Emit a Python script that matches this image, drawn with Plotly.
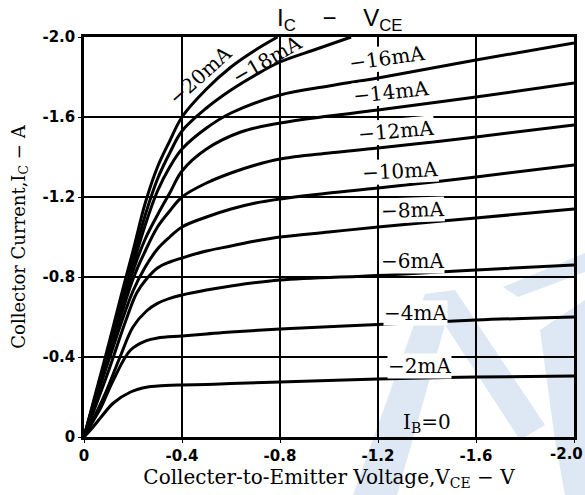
import plotly.graph_objects as go

# ---------------- data ----------------
ib_ma = [2, 4, 6, 8, 10, 12, 14, 16, 18, 20]

vce_2 = [0, -0.03, -0.07, -0.12, -0.19, -0.26, -0.3, -0.4, -0.5, -0.6, -0.8, -1.2, -1.6, -2.0]
ic_2 = [0, -0.04, -0.10, -0.17, -0.225, -0.25, -0.255, -0.26, -0.263, -0.267, -0.275, -0.29, -0.30, -0.305]

vce_4 = [0, -0.04, -0.07, -0.12, -0.19, -0.255, -0.3, -0.4, -0.5, -0.6, -0.8, -1.2, -1.6, -2.0]
ic_4 = [0, -0.085, -0.15, -0.285, -0.435, -0.482, -0.495, -0.505, -0.515, -0.525, -0.54, -0.563, -0.585, -0.60]

vce_6 = [0, -0.05, -0.093, -0.147, -0.2, -0.255, -0.3, -0.35, -0.4, -0.5, -0.6, -0.8, -1.2, -1.6, -2.0]
ic_6 = [0, -0.12, -0.235, -0.40, -0.55, -0.63, -0.668, -0.693, -0.71, -0.735, -0.755, -0.785, -0.808, -0.835, -0.86]

vce_8 = [0, -0.1, -0.17, -0.215, -0.255, -0.3, -0.35, -0.4, -0.5, -0.6, -0.7, -0.8, -1.0, -1.2, -1.6, -2.0]
ic_8 = [0, -0.33, -0.58, -0.72, -0.79, -0.845, -0.875, -0.895, -0.93, -0.955, -0.98, -1.0, -1.025, -1.05, -1.095, -1.14]

vce_10 = [0, -0.1, -0.2, -0.25, -0.3, -0.35, -0.4, -0.5, -0.6, -0.7, -0.8, -1.0, -1.2, -1.6, -2.0]
ic_10 = [0, -0.38, -0.73, -0.85, -0.94, -1.0, -1.05, -1.10, -1.14, -1.17, -1.19, -1.22, -1.245, -1.30, -1.36]

vce_12 = [0, -0.1, -0.2, -0.25, -0.3, -0.35, -0.4, -0.5, -0.6, -0.7, -0.8, -1.0, -1.2, -1.6, -2.0]
ic_12 = [0, -0.40, -0.79, -0.93, -1.05, -1.13, -1.2, -1.27, -1.32, -1.36, -1.39, -1.42, -1.445, -1.50, -1.56]

vce_14 = [0, -0.1, -0.2, -0.25, -0.3, -0.35, -0.4, -0.5, -0.64, -0.8, -1.0, -1.2, -1.6, -2.0]
ic_14 = [0, -0.42, -0.83, -0.99, -1.11, -1.22, -1.33, -1.44, -1.525, -1.57, -1.605, -1.635, -1.70, -1.77]

vce_16 = [0, -0.1, -0.2, -0.25, -0.3, -0.35, -0.4, -0.5, -0.6, -0.8, -1.0, -1.2, -1.6, -2.0]
ic_16 = [0, -0.43, -0.86, -1.06, -1.23, -1.35, -1.44, -1.545, -1.62, -1.71, -1.755, -1.795, -1.885, -1.97]

vce_18 = [0, -0.1, -0.2, -0.25, -0.3, -0.35, -0.4, -0.5, -0.6, -0.7, -0.8, -0.95, -1.09]
ic_18 = [0, -0.44, -0.89, -1.11, -1.29, -1.42, -1.53, -1.645, -1.735, -1.81, -1.875, -1.94, -2.0]

vce_20 = [0, -0.05, -0.1, -0.15, -0.2, -0.25, -0.3, -0.35, -0.4, -0.5, -0.6, -0.7, -0.79]
ic_20 = [0, -0.23, -0.46, -0.70, -0.93, -1.17, -1.35, -1.48, -1.6, -1.74, -1.85, -1.935, -2.0]

tick_vals = [0, -0.4, -0.8, -1.2, -1.6, -2.0]
tick_text = ["0", "-0.4", "-0.8", "-1.2", "-1.6", "-2.0"]

curves = [
    (vce_2, ic_2), (vce_4, ic_4), (vce_6, ic_6), (vce_8, ic_8), (vce_10, ic_10),
    (vce_12, ic_12), (vce_14, ic_14), (vce_16, ic_16), (vce_18, ic_18), (vce_20, ic_20),
]

# label placement (data coords) and rotation for each curve label
label_place = [
    (-1.371, -0.355, 0), (-1.355, -0.62, 0), (-1.339, -0.88, 0), (-1.339, -1.135, -2),
    (-1.29, -1.33, -3), (-1.273, -1.53, -5), (-1.253, -1.725, -6), (-1.237, -1.895, -8),
    (-0.745, -1.885, -30), (-0.475, -1.81, -42),
]

# ---------------- figure ----------------
W, H = 585, 495
ML, MR, MT, MB = 84, 11, 37, 58
PW, PH = W - ML - MR, H - MT - MB

def px2paper(px, py):
    return (px - ML) / PW, (H - MB - py) / PH

fig = go.Figure()

for (v, i), ib in zip(curves, ib_ma):
    fig.add_trace(go.Scatter(
        x=v, y=i, mode="lines", name=f"-{ib}mA",
        line=dict(color="black", width=3, shape="spline", smoothing=1.0),
        hoverinfo="skip", showlegend=False,
    ))

serif = "DejaVu Serif"
annotations = []
for ib, (lx, ly, ang) in zip(ib_ma, label_place):
    annotations.append(dict(
        x=lx, y=ly, xref="x", yref="y", text=f"\u2212{ib}mA", showarrow=False,
        textangle=ang, font=dict(family=serif, size=20, color="black"),
        bgcolor="white" if ang > -20 else "rgba(0,0,0,0)", borderpad=0,
    ))
annotations.append(dict(
    x=-1.40, y=-0.07, xref="x", yref="y", text="I<sub>B</sub>=0", showarrow=False,
    font=dict(family=serif, size=20, color="black"),
))
# title
annotations.append(dict(
    x=px2paper(339, 0)[0], y=px2paper(0, 19)[1], xref="paper", yref="paper",
    xanchor="center", yanchor="middle",
    text="I<sub>C</sub>\u00a0\u00a0\u00a0\u00a0\u2212\u00a0\u00a0\u00a0\u00a0V<sub>CE</sub>", showarrow=False,
    font=dict(family="Liberation Sans", size=24, color="black"),
))
# last x tick label, nudged inside the page
annotations.append(dict(
    x=tick_vals[-1], y=0, xref="x", yref="paper", text=tick_text[-1], showarrow=False,
    xanchor="right", yanchor="top", xshift=11, yshift=-6,
    font=dict(family="DejaVu Sans", size=15, color="black", weight="bold"),
))

# faint watermark shapes (pixel coords converted to paper)
wm_polys = [
    [(353, 495), (397, 495), (452, 300), (425, 294)],
    [(425, 294), (455, 290), (545, 425), (520, 440)],
    [(503, 287), (585, 253), (585, 272), (518, 297)],
    [(540, 330), (585, 300), (585, 495), (565, 495), (555, 440)],
]
shapes = []
for poly in wm_polys:
    pts = [px2paper(a, b) for a, b in poly]
    path = "M " + " L ".join(f"{a:.4f},{b:.4f}" for a, b in pts) + " Z"
    shapes.append(dict(type="path", path=path, xref="paper", yref="paper",
                       fillcolor="rgb(222,231,244)", line=dict(width=0), layer="below"))

axis_common = dict(
    tickvals=tick_vals, showgrid=True, gridcolor="black", gridwidth=1.5,
    showline=True, linecolor="black", linewidth=2.5, mirror=True,
    ticks="outside", ticklen=3, tickcolor="black", zeroline=False, automargin=False,
    tickfont=dict(family="DejaVu Sans", size=15, color="black", weight="bold"),
)

fig.update_layout(
    width=W, height=H, margin=dict(l=ML, r=MR, t=MT, b=MB, autoexpand=False),
    paper_bgcolor="white", plot_bgcolor="rgba(0,0,0,0)",
    xaxis=dict(range=[0, -2.0], ticktext=tick_text[:-1] + [""],
               title=dict(text="Collecter-to-Emitter Voltage,V<sub>CE</sub> \u2212 V",
                          font=dict(family=serif, size=20, color="black"), standoff=5),
               **axis_common),
    yaxis=dict(range=[0, -2.0], ticktext=tick_text,
               title=dict(text="Collector Current,I<sub>C</sub> \u2212 A",
                          font=dict(family=serif, size=18, color="black"), standoff=13),
               **axis_common),
    annotations=annotations, shapes=shapes,
)

fig.write_html("out.html", config={"displayModeBar": False},
               post_script="document.body.style.margin='0px';")
